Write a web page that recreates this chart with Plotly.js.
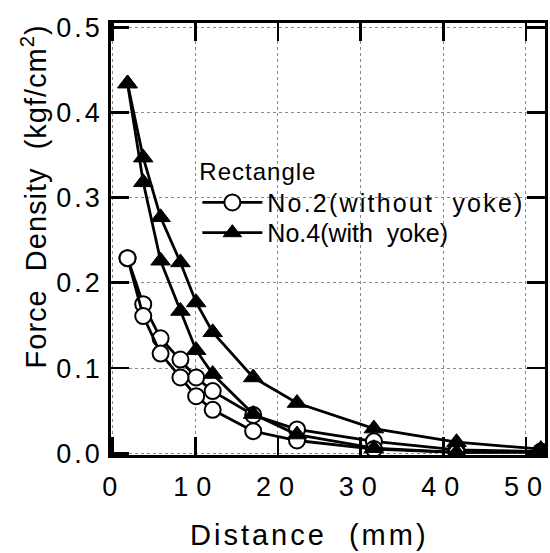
<!DOCTYPE html>
<html>
<head>
<meta charset="utf-8">
<script src="https://cdn.plot.ly/plotly-3.0.1.min.js"></script>
<style>
  html, body { margin: 0; padding: 0; background: #fff; }
  #chart { width: 550px; height: 553px; }
  .xtick text { letter-spacing: 8px; }
  .ytick text { letter-spacing: 3px; }
  .legendtext { letter-spacing: 2.2px; }
  .legendtitletext { letter-spacing: 1px; }
  .annotation-text { letter-spacing: 1px; }
  .xtitle-ann .annotation-text { letter-spacing: 3px; }
</style>
</head>
<body>
<div id="chart"></div>
<script>
// Distance (mm)
const distance = [1.8, 3.7, 5.8, 8.2, 10.1, 12.1, 17, 22.3, 31.6, 41.6, 51.8];
// No.2 (without yoke) – two measured branches
const no2Upper = [0.229, 0.175, 0.135, 0.110, 0.089, 0.073, 0.045, 0.028, 0.014, 0.004, 0.002];
const no2Lower = [0.229, 0.161, 0.117, 0.089, 0.067, 0.051, 0.026, 0.015, 0.005, 0.001, 0.001];
// No.4 (with yoke) – two measured branches
const no4Upper = [0.434, 0.347, 0.277, 0.224, 0.177, 0.142, 0.089, 0.059, 0.029, 0.013, 0.005];
const no4Lower = [0.434, 0.318, 0.226, 0.167, 0.121, 0.093, 0.046, 0.022, 0.006, 0.001, 0.002];

const xTickVals = [0, 10, 20, 30, 40, 50];
const xTickText = ['0', '10', '20', '30', '40', '50'];
const yTickVals = [0, 0.1, 0.2, 0.3, 0.4, 0.5];
const yTickText = ['0.0', '0.1', '0.2', '0.3', '0.4', '0.5'];

const legendTitle = 'Rectangle';
const name2 = 'No.2(without  yoke)';
const name4 = 'No.4(with  yoke)';
const xTitle = 'Distance  (mm)';
const yTitle = 'Force  Density  (kgf/cm<sup>2</sup>)';

const FONT = 'Liberation Sans, Arial, Helvetica, sans-serif';

const circ = {symbol: 'circle', size: 16, color: '#ffffff', line: {color: '#000', width: 2}};
const tri = {symbol: 'triangle-up', size: 17, color: '#000', line: {color: '#000', width: 1}};
const ln = {color: '#000', width: 2.8};

const traces = [
  {x: distance, y: no2Upper, mode: 'lines+markers', name: name2, line: ln, marker: circ, showlegend: true, legend: 'legend', legendgroup: 'a'},
  {x: distance, y: no2Lower, mode: 'lines+markers', name: name2, line: ln, marker: circ, showlegend: false, legendgroup: 'a'},
  {x: distance, y: no4Upper, mode: 'lines+markers', name: name4, line: ln, marker: tri, showlegend: true, legend: 'legend2', legendgroup: 'b'},
  {x: distance, y: no4Lower, mode: 'lines+markers', name: name4, line: ln, marker: tri, showlegend: false, legendgroup: 'b'}
];

const axisCommon = {
  showline: true, linecolor: '#000', linewidth: 2.8, mirror: 'ticks',
  ticks: 'inside', ticklen: 18, tickwidth: 2.8, tickcolor: '#000',
  showgrid: true, gridcolor: '#8a8a8a', gridwidth: 1, griddash: 'dot',
  zeroline: false, tickfont: {family: FONT, size: 27, color: '#000'},
  ticklabeloverflow: 'allow'
};

const legendFont = {family: FONT, size: 25, color: '#000'};

const layout = {
  width: 550, height: 553,
  margin: {l: 111, r: 5, t: 23, b: 98},
  paper_bgcolor: '#fff', plot_bgcolor: '#fff',
  showlegend: true,
  xaxis: Object.assign({}, axisCommon, {
    range: [-0.2, 52.3], tickmode: 'array', tickvals: xTickVals, ticktext: xTickText,
    ticklabelstandoff: 6, ticklabelshift: 1
  }),
  yaxis: Object.assign({}, axisCommon, {
    range: [-0.002, 0.505], tickmode: 'array', tickvals: yTickVals, ticktext: yTickText,
    ticklabelstandoff: 0
  }),
  legend: {
    x: 0.199, y: 0.7095, xanchor: 'left', yanchor: 'top',
    bgcolor: 'rgba(0,0,0,0)', borderwidth: 0,
    font: legendFont,
    title: {text: legendTitle, font: {family: FONT, size: 24, color: '#000'}},
    itemwidth: 60, tracegroupgap: 0
  },
  legend2: {
    x: 0.199, y: 0.514, xanchor: 'left', yanchor: 'middle',
    bgcolor: 'rgba(0,0,0,0)', borderwidth: 0,
    font: legendFont, itemwidth: 60, tracegroupgap: 0
  },
  annotations: [
    {text: xTitle, xref: 'paper', yref: 'paper', x: 0.457, y: -0.185,
     xanchor: 'center', yanchor: 'middle', showarrow: false,
     font: {family: FONT, size: 29, color: '#000'}},
    {text: yTitle, xref: 'paper', yref: 'paper', x: -0.178, y: 0.598, textangle: -90,
     xanchor: 'center', yanchor: 'middle', showarrow: false,
     font: {family: FONT, size: 29, color: '#000'}}
  ]
};

Plotly.newPlot('chart', traces, layout, {displayModeBar: false, staticPlot: true}).then(function (gd) {
  // widen letter spacing of the x-axis title annotation (first annotation)
  const anns = gd.querySelectorAll('.annotation');
  if (anns.length) anns[0].classList.add('xtitle-ann');
});
</script>
</body>
</html>
